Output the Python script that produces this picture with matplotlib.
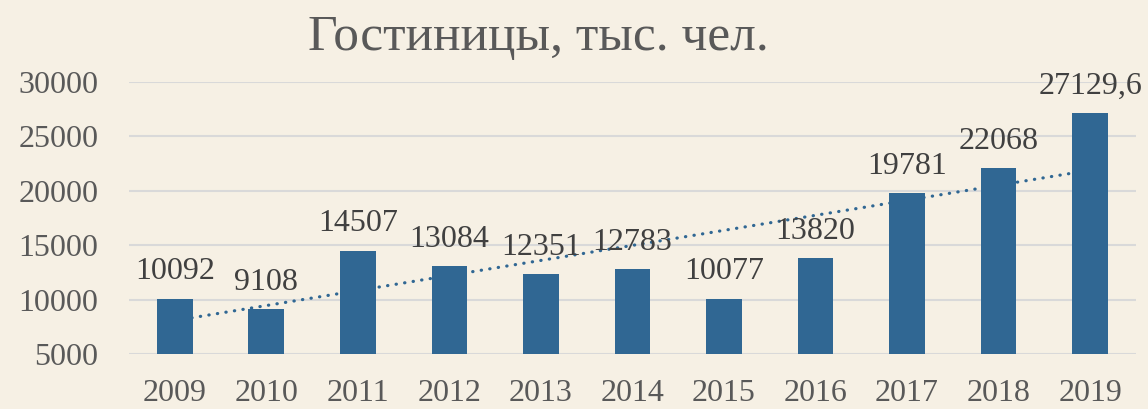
import numpy as np
import matplotlib
matplotlib.use("Agg")
import matplotlib.pyplot as plt

# --- данные ---
years = ["2009", "2010", "2011", "2012", "2013", "2014",
         "2015", "2016", "2017", "2018", "2019"]
guests = [10092, 9108, 14507, 13084, 12351, 12783,
          10077, 13820, 19781, 22068, 27129.6]
y_ticks = [5000, 10000, 15000, 20000, 25000, 30000]

BG = "#F6F0E4"
BAR = "#306793"
TXT = "#595959"

plt.rcParams["font.family"] = ["Liberation Serif", "DejaVu Serif"]

fig = plt.figure(figsize=(11.48, 4.09), dpi=100, facecolor=BG)
ax = fig.add_axes([0.1124, 0.1345, 0.877, 0.665], facecolor=BG)

x = np.arange(len(years))
ax.bar(x, np.array(guests) - y_ticks[0], bottom=y_ticks[0], width=0.39,
       color=BAR, zorder=3)

# линейный тренд (за столбцами)
k, b = np.polyfit(x, guests, 1)
ax.plot(x, k * x + b, color=BAR, lw=2.3, linestyle=(0, (0.1, 2.6)),
        dash_capstyle="round", zorder=2)

for xi, v in zip(x, guests):
    lbl = f"{v:g}".replace(".", ",")
    ax.annotate(lbl, (xi, v), xytext=(0, 14), textcoords="offset points",
                ha="center", va="baseline", fontsize=23, color="#404040",
                annotation_clip=False)

ax.set_xlim(-0.5, len(years) - 0.5)
ax.set_ylim(y_ticks[0], y_ticks[-1])
ax.set_yticks(y_ticks)
ax.set_xticks(x)
ax.set_xticklabels(years)
ax.tick_params(axis="both", length=0, labelsize=23, labelcolor=TXT)
ax.tick_params(axis="y", pad=22)
ax.tick_params(axis="x", pad=18)
ax.grid(axis="y", color="#D9D9D9", lw=1.5, zorder=0)
for s in ax.spines.values():
    s.set_visible(False)

fig.text(0.4686, 0.878, "Гостиницы, тыс. чел.", ha="center", va="baseline",
         fontsize=37, color=TXT)

fig.savefig("out.png", dpi=100, facecolor=BG)
